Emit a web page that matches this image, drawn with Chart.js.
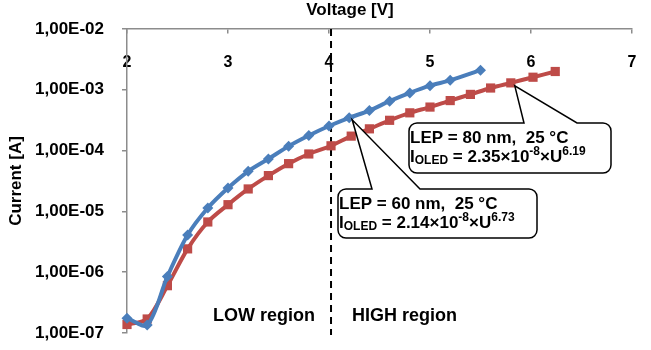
<!DOCTYPE html>
<html>
<head>
<meta charset="utf-8">
<script src="https://cdn.jsdelivr.net/npm/chart.js@4/dist/chart.umd.min.js"></script>
<style>
  html, body { margin: 0; padding: 0; background: #ffffff; }
  #wrap { width: 651px; height: 350px; position: relative; }
</style>
</head>
<body>
<div id="wrap"><canvas id="c"></canvas></div>
<script>
// ---- data ----
const voltageBlue = [2.0, 2.2, 2.4, 2.6, 2.8, 3.0, 3.2, 3.4, 3.6, 3.8, 4.0, 4.2, 4.4, 4.6, 4.8, 5.0, 5.2, 5.5];
const currentBlue = [1.75e-7, 1.35e-7, 8.5e-7, 4.1e-6, 1.14e-5, 2.43e-5, 4.57e-5, 7.3e-5, 1.18e-4, 1.77e-4, 2.54e-4, 3.46e-4, 4.56e-4, 6.5e-4, 8.9e-4, 1.17e-3, 1.43e-3, 2.1e-3];
const voltageRed = [2.0, 2.2, 2.4, 2.6, 2.8, 3.0, 3.2, 3.4, 3.6, 3.8, 4.02, 4.22, 4.4, 4.6, 4.8, 5.0, 5.2, 5.4, 5.6, 5.8, 6.02, 6.24];
const currentRed = [1.38e-7, 1.7e-7, 6.0e-7, 2.42e-6, 6.7e-6, 1.29e-5, 2.34e-5, 3.88e-5, 6.1e-5, 8.8e-5, 1.2e-4, 1.73e-4, 2.28e-4, 3.15e-4, 4.18e-4, 5.2e-4, 6.65e-4, 8.4e-4, 1.07e-3, 1.3e-3, 1.61e-3, 2.0e-3];
const yTickValues = [1e-7, 1e-6, 1e-5, 1e-4, 1e-3, 1e-2];
const yTickLabels = ['1,00E-07', '1,00E-06', '1,00E-05', '1,00E-04', '1,00E-03', '1,00E-02'];
const xTickValues = [2, 3, 4, 5, 6, 7];
const dividerVoltage = 4.02;

const FONT = "'Liberation Sans', Arial, sans-serif";
const BLUE = '#4a7ebb';
const RED = '#be4b48';

function pts(xs, ys) { return xs.map((x, i) => ({ x: x, y: ys[i] })); }

const annotations = {
  id: 'annotations',
  beforeDatasetsDraw(chart) {
    const ctx = chart.ctx, xs = chart.scales.x, area = chart.chartArea;
    const px = xs.getPixelForValue(dividerVoltage);
    ctx.save();
    ctx.strokeStyle = '#000';
    ctx.lineWidth = 2;
    ctx.setLineDash([7, 5]);
    ctx.beginPath();
    ctx.moveTo(px, area.top);
    ctx.lineTo(px, area.bottom + 2);
    ctx.stroke();
    ctx.restore();
  },
  afterDatasetsDraw(chart) {
    const ctx = chart.ctx;
    // region labels
    ctx.save();
    ctx.fillStyle = '#000';
    ctx.font = 'bold 18px ' + FONT;
    ctx.textBaseline = 'middle';
    ctx.textAlign = 'left';
    ctx.fillText('LOW region', 213, 316);
    ctx.fillText('HIGH region', 352, 316);
    ctx.restore();

    function callout(box, apex, baseA, baseB, line1, parts) {
      const r = 8;
      const { l, t, w, h } = box;
      const rr = l + w, bb = t + h;
      ctx.save();
      ctx.beginPath();
      ctx.moveTo(l + r, t);
      ctx.lineTo(baseA, t);
      ctx.lineTo(apex.x, apex.y);
      ctx.lineTo(baseB, t);
      ctx.lineTo(rr - r, t);
      ctx.arcTo(rr, t, rr, t + r, r);
      ctx.lineTo(rr, bb - r);
      ctx.arcTo(rr, bb, rr - r, bb, r);
      ctx.lineTo(l + r, bb);
      ctx.arcTo(l, bb, l, bb - r, r);
      ctx.lineTo(l, t + r);
      ctx.arcTo(l, t, l + r, t, r);
      ctx.closePath();
      ctx.fillStyle = '#fff';
      ctx.fill();
      ctx.strokeStyle = '#000';
      ctx.lineWidth = 1.5;
      ctx.stroke();
      ctx.fillStyle = '#000';
      ctx.textBaseline = 'alphabetic';
      ctx.textAlign = 'left';
      ctx.font = 'bold 17px ' + FONT;
      ctx.fillText(line1, l + 1, t + 20);
      let x = l + 1;
      const base = t + 39;
      parts.forEach(p => {
        ctx.font = 'bold ' + p.s + 'px ' + FONT;
        ctx.fillText(p.t, x, base + (p.dy || 0));
        x += ctx.measureText(p.t).width;
      });
      ctx.restore();
    }
    const m0 = chart.getDatasetMeta(0).data; // blue
    const m1 = chart.getDatasetMeta(1).data; // red
    const redApex = m1[voltageRed.indexOf(5.8)];
    const blueApex = m0[voltageBlue.indexOf(4.2)];
    callout({ l: 409, t: 123, w: 202, h: 50 }, { x: redApex.x + 4, y: redApex.y + 3 }, 524, 577,
      'LEP = 80 nm,  25 °C',
      [{ t: 'I', s: 17 }, { t: 'OLED', s: 12, dy: 2 }, { t: ' = 2.35×10', s: 17 }, { t: '-8', s: 12, dy: -7 }, { t: '×U', s: 17 }, { t: '6.19', s: 12, dy: -7 }]);
    callout({ l: 338, t: 189, w: 199, h: 49 }, { x: blueApex.x + 3, y: blueApex.y + 2 }, 372, 420,
      'LEP = 60 nm,  25 °C',
      [{ t: 'I', s: 17 }, { t: 'OLED', s: 12, dy: 2 }, { t: ' = 2.14×10', s: 17 }, { t: '-8', s: 12, dy: -7 }, { t: '×U', s: 17 }, { t: '6.73', s: 12, dy: -7 }]);
  },
  afterDraw(chart) {
    const ctx = chart.ctx;
    ctx.save();
    ctx.fillStyle = '#000';
    ctx.font = 'bold 17px ' + FONT;
    ctx.textAlign = 'center';
    ctx.textBaseline = 'middle';
    ctx.fillText('Voltage [V]', 350, 10);
    ctx.restore();
  }
};

new Chart(document.getElementById('c'), {
  type: 'line',
  data: {
    datasets: [
      {
        data: pts(voltageBlue, currentBlue),
        borderColor: BLUE, backgroundColor: BLUE,
        borderWidth: 4, pointStyle: 'rectRot', pointRadius: 5.5,
        pointBorderWidth: 0, tension: 0.3, clip: false
      },
      {
        data: pts(voltageRed, currentRed),
        borderColor: RED, backgroundColor: RED,
        borderWidth: 4, pointStyle: 'rect', pointRadius: 6.5,
        pointBorderWidth: 0, tension: 0.3, clip: false
      }
    ]
  },
  options: {
    responsive: true,
    maintainAspectRatio: false,
    animation: false,
    devicePixelRatio: 1,
    layout: { padding: { left: 0, right: 19, top: 29, bottom: 17 } },
    plugins: { legend: { display: false }, tooltip: { enabled: false }, title: { display: false } },
    scales: {
      x: {
        type: 'linear', position: { y: 1e-2 }, min: 2, max: 7,
        afterBuildTicks: s => { s.ticks = xTickValues.map(v => ({ value: v })); },
        afterFit: s => { s.paddingLeft = 0; s.paddingRight = 0; s.paddingTop = 0; s.paddingBottom = 0; },
        grid: { drawOnChartArea: false, drawTicks: true, tickLength: 4, color: '#8c8c8c', lineWidth: 1.5 },
        border: { color: '#8c8c8c', width: 1.5 },
        ticks: { color: '#000', font: { family: FONT, size: 16, weight: 'bold' }, padding: 20, maxRotation: 0, autoSkip: false },
        title: { display: false }
      },
      y: {
        type: 'logarithmic', position: 'left', min: 1e-7, max: 1e-2,
        afterBuildTicks: s => { s.ticks = yTickValues.map(v => ({ value: v })); },
        afterFit: s => { s.width = 127; s.paddingTop = 0; s.paddingBottom = 0; },
        grid: { drawOnChartArea: false, drawTicks: true, tickLength: 5, color: '#8c8c8c', lineWidth: 1.5 },
        border: { color: '#8c8c8c', width: 1.5 },
        ticks: {
          color: '#000', font: { family: FONT, size: 17, weight: 'bold' }, padding: 18,
          callback: v => { const i = yTickValues.findIndex(t => Math.abs(Math.log10(t) - Math.log10(v)) < 1e-6); return i >= 0 ? yTickLabels[i] : ''; }
        },
        title: { display: true, text: 'Current [A]', color: '#000', font: { family: FONT, size: 17, weight: 'bold' }, padding: { top: 6, bottom: 0 } }
      }
    }
  },
  plugins: [annotations]
});
</script>
</body>
</html>
